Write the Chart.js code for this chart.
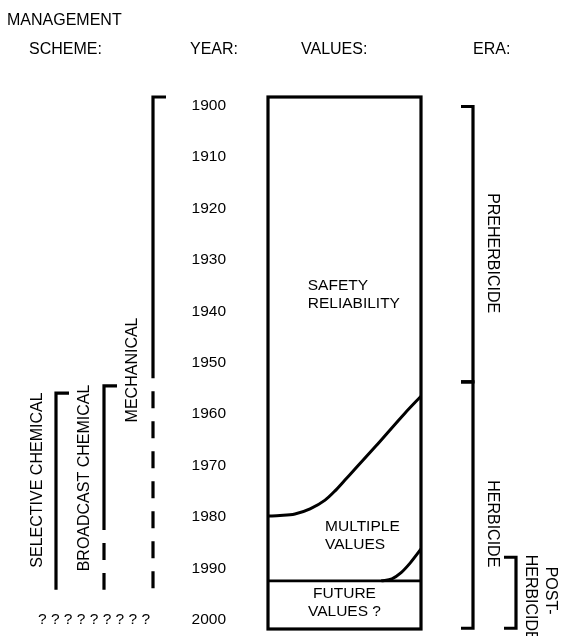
<!DOCTYPE html>
<html>
<head>
<meta charset="utf-8">
<script src="https://cdn.jsdelivr.net/npm/chart.js@4.4.1/dist/chart.umd.min.js"></script>
<style>
  html, body { margin: 0; padding: 0; background: #fff; }
  canvas { display: block; }
</style>
</head>
<body>
<canvas id="c" width="564" height="636"></canvas>
<script>
// ---------- DATA ----------
const yearTicks = [1900, 1910, 1920, 1930, 1940, 1950, 1960, 1970, 1980, 1990, 2000];
const yearMin = 1898.35;
const yearMax = 2001.75;

// share of the "values" column (0 = left edge, 1 = right edge) and the year of the boundary
const safetyShare = [0, 0.078, 0.176, 0.275, 0.373, 0.438, 0.503, 0.699, 0.895, 1.0];
const safetyLimitYear = [1979.8, 1979.7, 1979.4, 1978.4, 1976.7, 1974.9, 1972.8, 1966.4, 1959.8, 1956.5];
const futureShare = [0, 1];
const futureLimitYear = [1992.4, 1992.4];
const multiShare = [0.74, 0.81, 0.87, 0.93, 1.0];
const multiLimitYear = [1992.4, 1992.0, 1990.8, 1988.9, 1986.2];

const valueLabels = [['SAFETY', 'RELIABILITY'], ['MULTIPLE', 'VALUES'], ['FUTURE', 'VALUES ?']];

const schemes = ['SELECTIVE CHEMICAL', 'BROADCAST CHEMICAL', 'MECHANICAL'];
const schemeStart = [1955.9, 1954.5, 1898.35];
const schemeSolidEnd = [1994.1, 1982.5, 1953.0];
const schemeEnd = [1994.1, 1994.1, 1994.1];

const eras = ['PREHERBICIDE', 'HERBICIDE', 'POST-HERBICIDE'];
const eraStart = [1900.2, 1953.7, 1987.8];
const eraEnd = [1953.7, 2001.6, 2001.6];

const headers = ['MANAGEMENT', 'SCHEME:', 'YEAR:', 'VALUES:', 'ERA:'];
const unknownFuture = '? ? ? ? ? ? ? ? ?';

// ---------- LAYOUT (pixels / styles) ----------
const FONT = '"Liberation Sans", Arial, Helvetica, sans-serif';
const layoutCfg = {
  headerPos: [[7, 21], [29, 50], [190, 50], [301, 50], [473, 50]],
  valueLabelPos: [ {x: 0.26, y: [1935.1, 1938.5], align: 'left'},
                   {x: 0.373, y: [1981.8, 1985.3], align: 'left'},
                   {x: 0.50, y: [1994.9, 1998.3], align: 'center'} ],
  schemeX: [56, 104, 153],
  schemeLabel: [ {x: 38, y: 1972.8}, {x: 85, y: 1972.4}, {x: 133, y: 1951.4} ],
  eraX: [473, 473, 516],
  eraLabel: [ {x: 492, y: 1928.7}, {x: 492, y: 1981.3} ],
  postLabel: {x1: 550, y1: 1994.3, x2: 530, y2start: 1987.3},
  hook: 12,
  unknownPos: {x: 38, y: 2000}
};

const bracketPlugin = {
  id: 'bracketPlugin',
  afterDraw(chart) {
    const ctx = chart.ctx;
    const ys = chart.scales.y;
    const xs = chart.scales.x;
    const a = chart.chartArea;
    const Y = v => ys.getPixelForValue(v);
    ctx.save();
    ctx.strokeStyle = '#000';
    ctx.fillStyle = '#000';
    ctx.lineCap = 'butt';

    // box
    ctx.lineWidth = 3.2;
    ctx.strokeRect(a.left, a.top, a.right - a.left, a.bottom - a.top);

    // headers
    ctx.font = '16px ' + FONT;
    ctx.textBaseline = 'middle';
    ctx.textAlign = 'left';
    headers.forEach((h, i) => ctx.fillText(h, layoutCfg.headerPos[i][0], layoutCfg.headerPos[i][1]));

    // labels inside the values column
    ctx.font = '15.5px ' + FONT;
    valueLabels.forEach((lines, i) => {
      const p = layoutCfg.valueLabelPos[i];
      ctx.textAlign = p.align;
      lines.forEach((t, j) => ctx.fillText(t, xs.getPixelForValue(p.x), Y(p.y[j])));
    });

    // scheme brackets
    ctx.lineWidth = 3.2;
    schemes.forEach((s, i) => {
      const x = layoutCfg.schemeX[i];
      const y0 = Y(schemeStart[i]);
      const y1 = Y(schemeSolidEnd[i]);
      const y2 = Y(schemeEnd[i]);
      ctx.setLineDash([]);
      ctx.beginPath();
      ctx.moveTo(x + layoutCfg.hook + 1, y0);
      ctx.lineTo(x, y0);
      ctx.lineTo(x, y1);
      ctx.stroke();
      if (y2 > y1 + 1) {
        ctx.setLineDash([17, 13]);
        ctx.lineDashOffset = 17;
        ctx.beginPath();
        ctx.moveTo(x, y1);
        ctx.lineTo(x, y2);
        ctx.stroke();
        ctx.setLineDash([]);
        ctx.lineDashOffset = 0;
      }
      // label
      const lp = layoutCfg.schemeLabel[i];
      ctx.save();
      ctx.translate(lp.x, Y(lp.y));
      ctx.rotate(-Math.PI / 2);
      ctx.font = '16px ' + FONT;
      ctx.textAlign = 'center';
      ctx.textBaseline = 'middle';
      ctx.fillText(s, 0, 0);
      ctx.restore();
    });

    // era brackets
    eras.forEach((e, i) => {
      const x = layoutCfg.eraX[i];
      const y0 = Y(eraStart[i]);
      const y1 = Y(eraEnd[i]);
      ctx.beginPath();
      ctx.moveTo(x - layoutCfg.hook, y0);
      ctx.lineTo(x, y0);
      ctx.lineTo(x, y1);
      ctx.lineTo(x - layoutCfg.hook, y1);
      ctx.stroke();
    });
    ctx.font = '16px ' + FONT;
    ctx.textBaseline = 'middle';
    layoutCfg.eraLabel.forEach((lp, i) => {
      ctx.save();
      ctx.translate(lp.x, Y(lp.y));
      ctx.rotate(Math.PI / 2);
      ctx.textAlign = 'center';
      ctx.fillText(eras[i], 0, 0);
      ctx.restore();
    });
    const pl = layoutCfg.postLabel;
    const parts = ['POST-', 'HERBICIDE'];
    ctx.save();
    ctx.translate(pl.x1, Y(pl.y1));
    ctx.rotate(Math.PI / 2);
    ctx.textAlign = 'center';
    ctx.fillText(parts[0], 0, 0);
    ctx.restore();
    ctx.save();
    ctx.translate(pl.x2, Y(pl.y2start));
    ctx.rotate(Math.PI / 2);
    ctx.textAlign = 'left';
    ctx.fillText(parts[1], 0, 0);
    ctx.restore();

    // question marks row
    ctx.font = '15.5px ' + FONT;
    ctx.textAlign = 'left';
    ctx.fillText(unknownFuture, layoutCfg.unknownPos.x, Y(layoutCfg.unknownPos.y));

    ctx.restore();
  }
};

const toPts = (xsArr, ysArr) => xsArr.map((v, i) => ({x: v, y: ysArr[i]}));
const lineStyle = {
  borderColor: '#000', borderWidth: 3, pointRadius: 0, fill: false,
  cubicInterpolationMode: 'monotone'
};

new Chart(document.getElementById('c'), {
  type: 'line',
  data: {
    datasets: [
      Object.assign({label: 'safety boundary', data: toPts(safetyShare, safetyLimitYear)}, lineStyle),
      Object.assign({label: 'future boundary', data: toPts(futureShare, futureLimitYear)}, lineStyle, {borderWidth: 2.6}),
      Object.assign({label: 'multiple boundary', data: toPts(multiShare, multiLimitYear)}, lineStyle)
    ]
  },
  options: {
    responsive: false,
    animation: false,
    events: [],
    layout: { padding: { left: 0, right: 143, top: 97, bottom: 7 } },
    plugins: { legend: { display: false }, tooltip: { enabled: false } },
    scales: {
      x: { type: 'linear', min: 0, max: 1, display: false },
      y: {
        type: 'linear', reverse: true, min: yearMin, max: yearMax,
        grid: { display: false, drawTicks: false },
        border: { display: false },
        ticks: {
          color: '#000', padding: 42, font: { size: 15.5, family: FONT },
          callback: v => String(v)
        },
        afterBuildTicks: s => { s.ticks = yearTicks.map(v => ({value: v})); },
        afterFit: s => { s.width = 268; s.paddingTop = 0; s.paddingBottom = 0; }
      }
    }
  },
  plugins: [bracketPlugin]
});
</script>
</body>
</html>
